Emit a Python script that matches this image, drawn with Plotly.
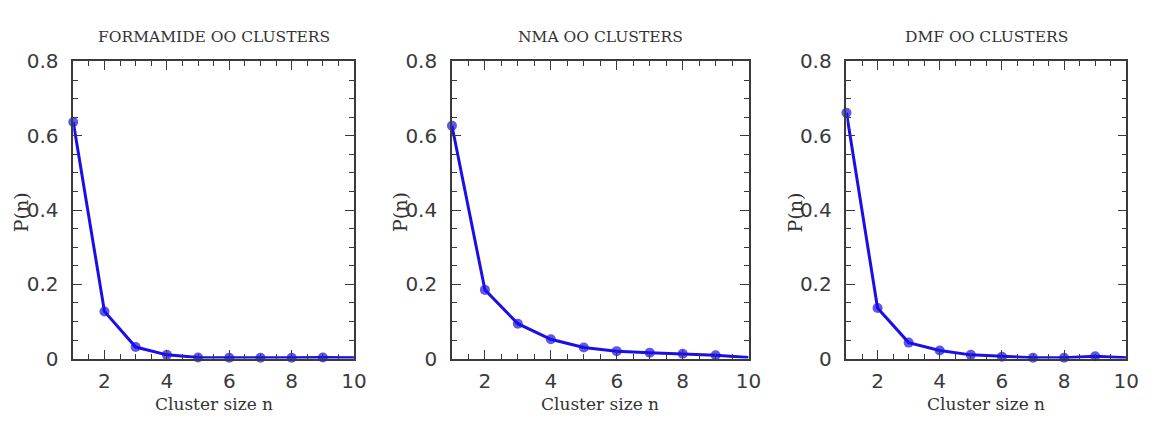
import plotly.graph_objects as go

cluster_size = [1, 2, 3, 4, 5, 6, 7, 8, 9, 10]
formamide = [0.637, 0.127, 0.031, 0.010, 0.003, 0.002, 0.002, 0.002, 0.003, 0.002]
nma = [0.627, 0.185, 0.094, 0.052, 0.030, 0.020, 0.016, 0.013, 0.009, 0.003]
dmf = [0.662, 0.136, 0.043, 0.022, 0.010, 0.005, 0.002, 0.002, 0.006, 0.002]
titles = ["FORMAMIDE OO CLUSTERS", "NMA OO CLUSTERS", "DMF OO CLUSTERS"]
x_ticks = [2, 4, 6, 8, 10]
y_ticks = [0, 0.2, 0.4, 0.6, 0.8]
y_ticktext = ["0", "0.2", "0.4", "0.6", "0.8"]

W, H = 1156, 422
OFF = 8  # page body margin shifts the figure by 8px
panels_px = [(74 - OFF, 358 - OFF), (457 - OFF, 757 - OFF), (856 - OFF, 1139 - OFF)]
top_px, bot_px = 52 - OFF, 367 - OFF

LINE = "#1a10e6"
FRAME = "#3a3a3a"
TICKFONT = "DejaVu Sans"
TEXTFONT = "DejaVu Serif"

fig = go.Figure()
series = [formamide, nma, dmf]
annotations = []
for i, (vals, (l, r)) in enumerate(zip(series, panels_px)):
    sfx = "" if i == 0 else str(i + 1)
    msizes = [10] * (len(cluster_size) - 1) + [0]
    fig.add_trace(go.Scatter(
        x=cluster_size, y=vals, mode="lines+markers",
        line=dict(color=LINE, width=3),
        marker=dict(color=LINE, size=msizes, line=dict(width=0)),
        xaxis="x" + sfx, yaxis="y" + sfx, showlegend=False,
        cliponaxis=False,
    ))
    dom_x = [l / W, r / W]
    dom_y = [(H - bot_px) / H, (H - top_px) / H]
    common = dict(showline=True, linecolor=FRAME, linewidth=1.5, mirror="ticks",
                  ticks="inside", tickcolor=FRAME, tickwidth=1.2, ticklen=9,
                  showgrid=False, zeroline=False,
                  tickfont=dict(family=TICKFONT, size=20, color="#3a3a3a"))
    fig.update_layout(**{
        "xaxis" + sfx: dict(domain=dom_x, range=[1, 10], tickvals=x_ticks,
                            anchor="y" + sfx,
                            minor=dict(dtick=0.5, tick0=0, ticks="inside", ticklen=5,
                                       tickcolor=FRAME, tickwidth=1),
                            ticklabelstandoff=4, **common),
        "yaxis" + sfx: dict(domain=dom_y, range=[0, 0.8], tickvals=y_ticks,
                            ticktext=y_ticktext, anchor="x" + sfx,
                            minor=dict(dtick=0.05, tick0=0, ticks="inside", ticklen=5,
                                       tickcolor=FRAME, tickwidth=1),
                            ticklabelstandoff=9, **common),
    })
    cx = (l + r) / 2
    annotations.append(dict(text=titles[i], x=cx / W, y=(H - (26 - OFF)) / H, xref="paper", yref="paper",
                            showarrow=False, xanchor="center", yanchor="middle",
                            font=dict(family=TEXTFONT, size=15.5, color="#333")))
    annotations.append(dict(text="Cluster size n", x=cx / W, y=(H - (415 - OFF)) / H, xref="paper", yref="paper",
                            showarrow=False, xanchor="center", yanchor="middle", borderpad=0,
                            font=dict(family=TEXTFONT, size=17, color="#333")))
    annotations.append(dict(text="P(n)", x=(l - 52) / W, y=(H - (212 - OFF)) / H, xref="paper", yref="paper",
                            showarrow=False, xanchor="center", yanchor="middle", textangle=-90,
                            font=dict(family=TEXTFONT, size=19, color="#333")))

fig.update_layout(width=W, height=H, margin=dict(l=0, r=0, t=0, b=0),
                  paper_bgcolor="white", plot_bgcolor="white",
                  annotations=annotations)
fig.write_html("out.html")
